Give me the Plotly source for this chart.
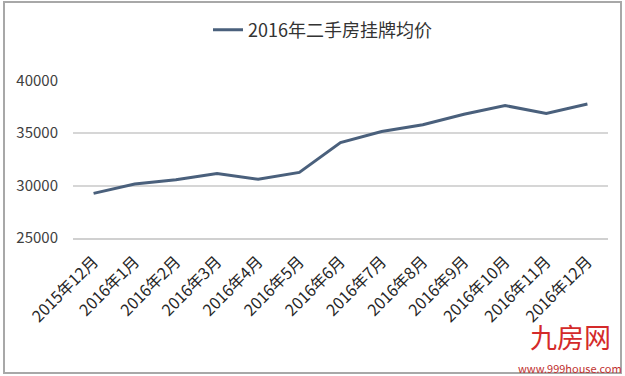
import plotly.graph_objects as go

months = ["2015年12月", "2016年1月", "2016年2月", "2016年3月", "2016年4月", "2016年5月",
          "2016年6月", "2016年7月", "2016年8月", "2016年9月", "2016年10月", "2016年11月", "2016年12月"]
prices = [29250, 30150, 30550, 31150, 30600, 31250, 34100, 35150, 35800, 36800, 37620, 36880, 37780]
series_name = "2016年二手房挂牌均价"
y_ticks = [25000, 30000, 35000, 40000]
y_tick_text = ["25000", "30000", "35000", "40000"]

W, H = 625, 376
L, R, T, B = 73, 17, 80, 138
pw, ph = W - L - R, H - T - B


def px(x):
    return (x - L) / pw


def py(y):
    return 1 - (y - T) / ph


FONT = "Noto Sans CJK SC"

fig = go.Figure()
fig.add_trace(go.Scatter(
    x=months, y=prices, mode="lines", name=series_name,
    line=dict(color="#4a607c", width=3),
))

fig.update_layout(
    width=W, height=H,
    margin=dict(l=L, r=R, t=T, b=B, pad=0),
    paper_bgcolor="white", plot_bgcolor="white",
    font=dict(family=FONT, color="#404040"),
    showlegend=True,
    legend=dict(
        orientation="h", x=px(208), xanchor="left", y=py(30), yanchor="middle",
        font=dict(size=18, color="#333333", family=FONT),
        bgcolor="rgba(0,0,0,0)", itemwidth=30,
    ),
    xaxis=dict(
        type="category", range=[-0.5, len(months) - 0.5],
        showgrid=False, showline=True, linecolor="#d0d0d0", linewidth=2,
        ticks="", tickangle=-45,
        tickfont=dict(size=16, color="#262626", family=FONT),
        ticklabelstandoff=6,
    ),
    yaxis=dict(
        range=[25000, 40060], tickvals=y_ticks, ticktext=y_tick_text,
        showgrid=True, gridcolor="#d6d6d6", gridwidth=1.5,
        zeroline=False, showline=False, ticks="",
        tickfont=dict(size=15, color="#404040", family=FONT),
        ticklabelstandoff=14,
    ),
    shapes=[dict(
        type="rect", xref="paper", yref="paper",
        x0=px(4), x1=px(621), y0=py(373), y1=py(2),
        line=dict(color="#a8a8a8", width=2), fillcolor="rgba(0,0,0,0)", layer="below",
    )],
    annotations=[
        dict(text="九房网", xref="paper", yref="paper", x=px(570), y=py(358),
             xanchor="center", yanchor="bottom", showarrow=False,
             font=dict(size=27, color="#d42a2a", family=FONT)),
        dict(text="www.999house.com", xref="paper", yref="paper", x=px(570), y=py(358),
             xanchor="center", yanchor="top", showarrow=False,
             font=dict(size=11, color="#c0302e", family=FONT)),
    ],
)

fig.write_html("out.html")
